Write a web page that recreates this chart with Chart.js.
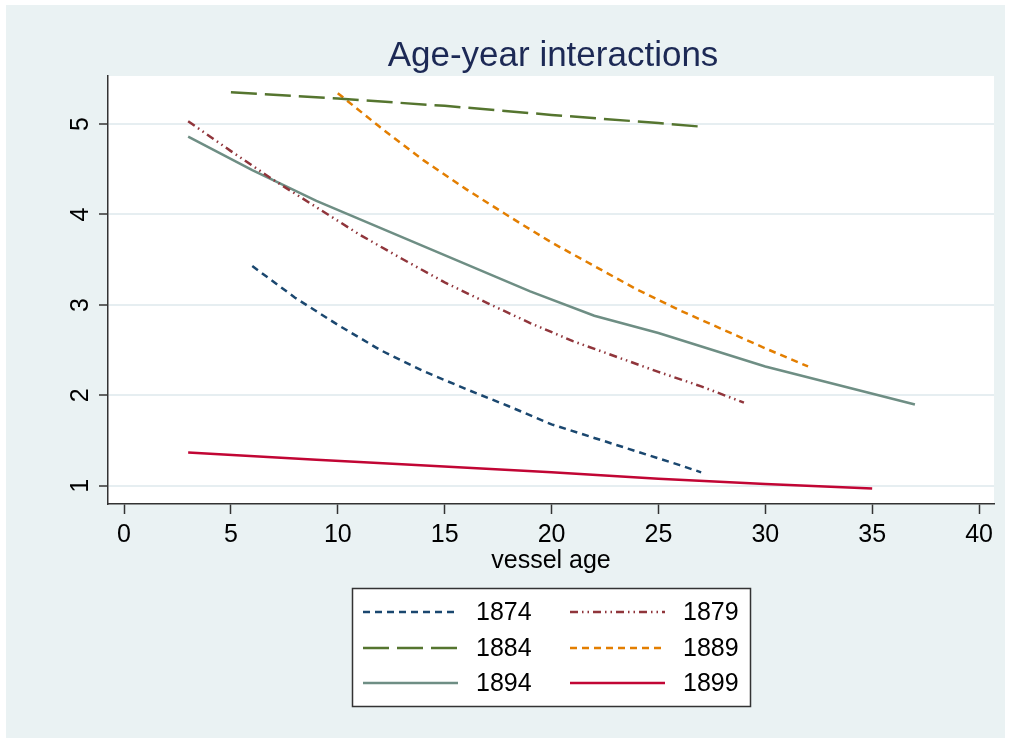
<!DOCTYPE html>
<html>
<head>
<meta charset="utf-8">
<script src="https://cdn.jsdelivr.net/npm/chart.js@4/dist/chart.umd.min.js"></script>
<style>
  html, body { margin: 0; padding: 0; background: #fff; }
  #wrap { width: 1013px; height: 738px; }
</style>
</head>
<body>
<div id="wrap"><canvas id="chart"></canvas></div>
<script>
// tick labels
const xTicks = [0, 5, 10, 15, 20, 25, 30, 35, 40];
const yTicks = [1, 2, 3, 4, 5];

// series (vessel age -> value)
const years = ['1874', '1879', '1884', '1889', '1894', '1899'];

const ages1874 = [6, 8, 10, 12, 14, 16, 18, 20, 22, 24, 26, 27];
const vals1874 = [3.43, 3.08, 2.78, 2.50, 2.27, 2.07, 1.88, 1.68, 1.53, 1.38, 1.23, 1.15];

const ages1879 = [3, 5, 7, 9, 11, 13, 15, 17, 19, 21, 23, 25, 27, 29];
const vals1879 = [5.03, 4.70, 4.38, 4.08, 3.78, 3.51, 3.25, 3.02, 2.80, 2.60, 2.43, 2.26, 2.10, 1.92];

const ages1884 = [5, 10, 15, 20, 25, 27];
const vals1884 = [5.35, 5.28, 5.20, 5.10, 5.01, 4.97];

const ages1889 = [10, 12, 14, 16, 18, 20, 22, 24, 26, 28, 30, 32];
const vals1889 = [5.34, 4.96, 4.60, 4.28, 3.98, 3.69, 3.43, 3.17, 2.94, 2.73, 2.52, 2.32];

const ages1894 = [3, 6, 9, 14, 19, 22, 25, 30, 37];
const vals1894 = [4.86, 4.49, 4.15, 3.65, 3.15, 2.88, 2.69, 2.32, 1.90];

const ages1899 = [3, 9, 13, 20, 25, 30, 35];
const vals1899 = [1.37, 1.29, 1.24, 1.15, 1.08, 1.02, 0.97];

const titleText = 'Age-year interactions';

const FONT = "'Liberation Sans', Arial, Helvetica, sans-serif";
Chart.defaults.font.family = FONT;

const pts = (ages, vals) => ages.map((a, i) => ({x: a, y: vals[i]}));

function series(label, ages, vals, color, dash) {
    return {
        label: label,
        data: pts(ages, vals),
        borderColor: color,
        backgroundColor: color,
        borderWidth: 2.5,
        borderDash: dash,
        borderCapStyle: 'butt',
        pointRadius: 0,
        tension: 0,
        fill: false
    };
}

const datasets = [
    series(years[0], ages1874, vals1874, '#1a476f', [7, 5]),
    series(years[1], ages1879, vals1879, '#90353b', [8, 4, 1.5, 4, 1.5, 4]),
    series(years[2], ages1884, vals1884, '#55752f', [26, 8]),
    series(years[3], ages1889, vals1889, '#e37e00', [7, 5]),
    series(years[4], ages1894, vals1894, '#6e8e84', []),
    series(years[5], ages1899, vals1899, '#c10534', [])
];

// background: outer bluish-gray panel, white plot region
const bgPlugin = {
    id: 'bg',
    beforeDraw(chart) {
        const {ctx, chartArea: a} = chart;
        ctx.save();
        ctx.fillStyle = '#ffffff';
        ctx.fillRect(0, 0, chart.width, chart.height);
        ctx.fillStyle = '#eaf2f3';
        ctx.fillRect(6, 5, 999, 733);
        ctx.fillStyle = '#ffffff';
        ctx.fillRect(a.left, a.top, a.right - a.left, a.bottom - a.top);
        ctx.restore();
    }
};

// title centred over the plot region, vertical y tick labels (Stata style)
const textPlugin = {
    id: 'texts',
    afterDraw(chart) {
        const {ctx, chartArea: a} = chart;
        const ys = chart.scales.y;
        ctx.save();
        ctx.fillStyle = '#1c2955';
        ctx.font = '35px ' + FONT;
        ctx.textAlign = 'center';
        ctx.textBaseline = 'alphabetic';
        ctx.fillText(titleText, (a.left + a.right) / 2 + 2, 66);

        ctx.font = '25px ' + FONT;
        ctx.fillStyle = '#000';
        ys.ticks.forEach(t => {
            const py = ys.getPixelForValue(t.value);
            ctx.save();
            ctx.translate(ys.left + 88, py);
            ctx.rotate(-Math.PI / 2);
            ctx.textAlign = 'center';
            ctx.textBaseline = 'alphabetic';
            ctx.fillText(String(t.value), 0, 0);
            ctx.restore();
        });
        ctx.restore();
    }
};

// boxed two-column legend under the plot
const legendPlugin = {
    id: 'boxLegend',
    afterDraw(chart) {
        const ctx = chart.ctx;
        const box = {x: 352.5, y: 588.5, w: 398, h: 118};
        ctx.save();
        ctx.fillStyle = '#ffffff';
        ctx.fillRect(box.x, box.y, box.w, box.h);
        ctx.strokeStyle = '#333';
        ctx.lineWidth = 1.5;
        ctx.strokeRect(box.x, box.y, box.w, box.h);
        const cols = [363, 570];
        const rows = [612, 648, 683];
        chart.data.datasets.forEach((ds, i) => {
            const cx = cols[i % 2];
            const cy = rows[Math.floor(i / 2)];
            ctx.beginPath();
            ctx.setLineDash(ds.borderDash || []);
            ctx.lineCap = 'butt';
            ctx.strokeStyle = ds.borderColor;
            ctx.lineWidth = 2.5;
            ctx.moveTo(cx, cy);
            ctx.lineTo(cx + 95, cy);
            ctx.stroke();
            ctx.setLineDash([]);
            ctx.fillStyle = '#000';
            ctx.font = '25px ' + FONT;
            ctx.textAlign = 'left';
            ctx.textBaseline = 'middle';
            ctx.fillText(ds.label, cx + 113, cy + 1);
        });
        ctx.restore();
    }
};

new Chart(document.getElementById('chart'), {
    type: 'line',
    data: {datasets},
    plugins: [bgPlugin, textPlugin, legendPlugin],
    options: {
        responsive: true,
        maintainAspectRatio: false,
        animation: false,
        layout: {padding: {left: 0, right: 19, top: 76, bottom: 0}},
        plugins: {
            legend: {display: false},
            tooltip: {enabled: false},
            title: {display: false}
        },
        scales: {
            x: {
                type: 'linear',
                min: -0.75,
                max: 40.7,
                afterBuildTicks: s => { s.ticks = xTicks.map(v => ({value: v})); },
                afterFit: s => { s.height = 234; },
                ticks: {color: '#000', font: {size: 25}, padding: 6, maxRotation: 0},
                grid: {drawOnChartArea: false, tickLength: 10, tickColor: '#333', tickWidth: 1.5},
                border: {display: true, color: '#333', width: 1.5},
                title: {
                    display: true,
                    text: 'vessel age',
                    color: '#000',
                    font: {size: 25},
                    padding: {top: 0, bottom: 162}
                }
            },
            y: {
                type: 'linear',
                min: 0.8,
                max: 5.53,
                afterBuildTicks: s => { s.ticks = yTicks.map(v => ({value: v})); },
                afterFit: s => { s.width = 108; },
                ticks: {display: false},
                grid: {color: '#e6eef1', lineWidth: 2, tickLength: 9, tickColor: '#333', tickWidth: 1.5},
                border: {display: true, color: '#333', width: 1.5}
            }
        }
    }
});
</script>
</body>
</html>
